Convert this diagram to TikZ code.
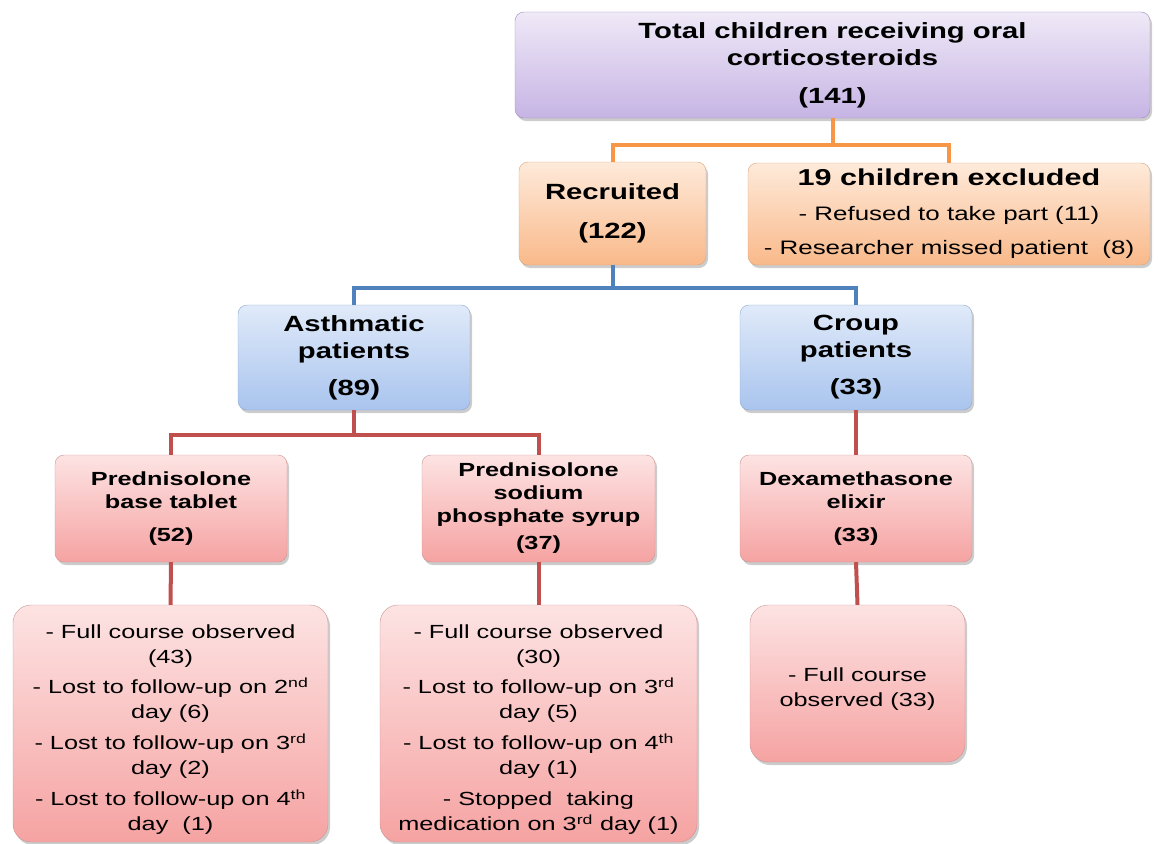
\documentclass[tikz,border=0pt]{standalone}
\usepackage{fontspec}
\setmainfont{Liberation Sans}[FakeStretch=1.33]
\usepackage{tikz}
\usetikzlibrary{shadows}

\definecolor{lilactop}{HTML}{EFE9F7}
\definecolor{lilacbot}{HTML}{C6B4E4}
\definecolor{lilacrim}{HTML}{9D8CBE}
\definecolor{peachtop}{HTML}{FEEADA}
\definecolor{peachbot}{HTML}{F9B98A}
\definecolor{peachrim}{HTML}{D9A57C}
\definecolor{skytop}{HTML}{E0EAF9}
\definecolor{skybot}{HTML}{A9C4EE}
\definecolor{skyrim}{HTML}{8EA7CF}
\definecolor{rosetop}{HTML}{FDE3E3}
\definecolor{rosebot}{HTML}{F5A3A2}
\definecolor{roserim}{HTML}{C99594}
\definecolor{orangeln}{HTML}{F79646}
\definecolor{blueln}{HTML}{4F81BD}
\definecolor{redln}{HTML}{C0504D}

\tikzset{
  flowbox/.style={rounded corners=9pt, inner sep=0pt, align=center,
    drop shadow={opacity=0.4, shadow xshift=2pt, shadow yshift=-3pt}},
  lilacbox/.style={flowbox, draw=lilacrim, top color=lilactop, bottom color=lilacbot},
  peachbox/.style={flowbox, draw=peachrim, top color=peachtop, bottom color=peachbot},
  skybox/.style={flowbox, draw=skyrim, top color=skytop, bottom color=skybot},
  rosebox/.style={flowbox, draw=roserim, top color=rosetop, bottom color=rosebot},
  orangeline/.style={draw=orangeln, line width=4pt},
  blueline/.style={draw=blueln, line width=4pt},
  redline/.style={draw=redln, line width=4pt},
}

\begin{document}
\begin{tikzpicture}[x=1pt, y=-1pt]

      \useasboundingbox (0,0) rectangle (1158,843);

      %Total
      \node [lilacbox, minimum width=635pt, minimum height=106pt,
             font=\bfseries\fontsize{22}{27}\selectfont] (total) at (832.5,65)
            {Total children receiving oral\\ corticosteroids\\[11pt] (141)};

      %Recruited and excluded
      \node [peachbox, minimum width=187pt, minimum height=103pt,
             font=\bfseries\fontsize{22}{27}\selectfont] (recruited) at (612.5,213.5)
            {Recruited\\[12pt] (122)};
      \node [peachbox, minimum width=402pt, minimum height=102pt,
             font=\fontsize{19.5}{24}\selectfont] (excluded) at (949,214)
            {{\bfseries\fontsize{23}{27}\selectfont 19 children excluded}\\[11pt]
             - Refused to take part (11)\\[10pt]
             - Researcher missed patient~~(8)};

      %Patients
      \node [skybox, minimum width=232pt, minimum height=105pt,
             font=\bfseries\fontsize{22}{27}\selectfont] (asthma) at (354,357.5)
            {Asthmatic\\ patients\\[10pt] (89)};
      \node [skybox, minimum width=232pt, minimum height=105pt,
             font=\bfseries\fontsize{22}{27}\selectfont] (croup) at (856,357.5)
            {Croup\\ patients\\[10pt] (33)};

      %Medications
      \node [rosebox, minimum width=232pt, minimum height=107pt,
             font=\bfseries\fontsize{19}{23}\selectfont] (tablet) at (171,508.5)
            {Prednisolone\\ base tablet\\[10pt] (52)};
      \node [rosebox, minimum width=233pt, minimum height=107pt,
             font=\bfseries\fontsize{19}{23}\selectfont] (syrup) at (538.5,508.5)
            {Prednisolone\\ sodium\\ phosphate syrup\\[4pt] (37)};
      \node [rosebox, minimum width=232pt, minimum height=107pt,
             font=\bfseries\fontsize{19}{23}\selectfont] (elixir) at (856,508.5)
            {Dexamethasone\\ elixir\\[10pt] (33)};

      %Outcomes
      \node [rosebox, rounded corners=18pt, minimum width=315pt, minimum height=237pt,
             font=\fontsize{19}{25}\selectfont] (tabletout) at (170.5,723.5)
            {\rule{0pt}{26pt}- Full course observed\\ (43)\\[5pt]
             - Lost to follow-up on 2\textsuperscript{nd}\\ day (6)\\[6pt]
             - Lost to follow-up on 3\textsuperscript{rd}\\ day (2)\\[6pt]
             - Lost to follow-up on 4\textsuperscript{th}\\ day~~(1)};
      \node [rosebox, rounded corners=18pt, minimum width=317pt, minimum height=237pt,
             font=\fontsize{19}{25}\selectfont] (syrupout) at (538.5,723.5)
            {\rule{0pt}{26pt}- Full course observed\\ (30)\\[5pt]
             - Lost to follow-up on 3\textsuperscript{rd}\\ day (5)\\[6pt]
             - Lost to follow-up on 4\textsuperscript{th}\\ day (1)\\[6pt]
             - Stopped~~taking\\ medication on 3\textsuperscript{rd} day (1)};
      \node [rosebox, rounded corners=18pt, minimum width=215pt, minimum height=157pt,
             font=\fontsize{19}{25}\selectfont] (elixirout) at (857.5,683.5)
            {\rule{0pt}{24pt}- Full course\\ observed (33)};

      %Connectors
      \coordinate (split1) at (total.south |- 0,145);
      \coordinate (split2) at (recruited.south |- 0,288);
      \coordinate (split3) at (asthma.south |- 0,435);
      \draw [orangeline] (total.south) -- (split1);
      \draw [orangeline] (split1) -| (recruited.north);
      \draw [orangeline] (split1) -| (excluded.north);
      \draw [blueline] (recruited.south) -- (split2);
      \draw [blueline] (split2) -| (asthma.north);
      \draw [blueline] (split2) -| (croup.north);
      \draw [redline] (asthma.south) -- (split3);
      \draw [redline] (split3) -| (tablet.north);
      \draw [redline] (split3) -| (syrup.north);
      \draw [redline] (croup.south) -- (elixir.north);
      \draw [redline] (tablet.south) -- (tabletout.north);
      \draw [redline] (syrup.south) -- (syrupout.north);
      \draw [redline] (elixir.south) -- (elixirout.north);
    \end{tikzpicture}
\end{document}
